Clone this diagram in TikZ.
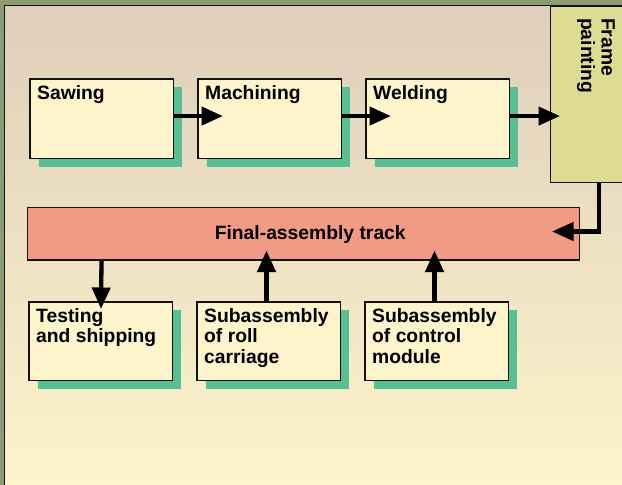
\documentclass[tikz,border=0pt]{standalone}
\usepackage{fontspec}
\setmainfont{Liberation Sans}
\usetikzlibrary{arrows.meta,shadows,calc}

\definecolor{rimolive}{HTML}{8E9B70}
\definecolor{edge}{HTML}{111111}
\definecolor{bgtop}{HTML}{DFCEBB}
\definecolor{bgbot}{HTML}{FCF4CB}
\definecolor{boxfill}{HTML}{FDF4CC}
\definecolor{shadowgreen}{HTML}{58BF93}
\definecolor{trackfill}{HTML}{F29B84}
\definecolor{framefill}{HTML}{DEDB93}

\begin{document}
\begin{tikzpicture}[x=1pt,y=-1pt,
  txt/.style={font=\bfseries\fontsize{19.3pt}{20.5pt}\selectfont, align=left, inner sep=0pt},
  stage/.style={draw=edge, line width=1.6pt, fill=boxfill,
    minimum width=143.5pt, anchor=north west,
    drop shadow={shadow xshift=9pt, shadow yshift=-8.5pt, fill=shadowgreen, opacity=1}},
  corner/.style={txt, anchor=north west, xshift=8pt, yshift=-7pt},
  arr/.style={line width=4.3pt, draw=black, -{Triangle[length=21.5pt,width=18pt]}},
]
% page frame and backdrop
\clip (0,0) rectangle (622,485);
\fill[rimolive] (0,0) rectangle (622,485);
\shade[top color=bgtop, bottom color=bgbot] (4.5,5.5) rectangle (622,485);
\draw[edge, line width=1.5pt] (4.5,485) -- (4.5,5.5) -- (622,5.5);

% final-assembly track
\node[draw=edge, line width=1.5pt, fill=trackfill, anchor=north west,
      minimum width=552pt, minimum height=52.5pt,
      label={[txt, xshift=7pt, yshift=-1pt]center:Final-assembly track}]
      (track) at (26.5,206.5) {};

% upper process stages
\node[stage, minimum height=79.5pt, label={[corner]north west:Sawing}]    (saw)  at (29,78) {};
\node[stage, minimum height=79.5pt, label={[corner]north west:Machining}] (mach) at (197,78) {};
\node[stage, minimum height=79.5pt, label={[corner]north west:Welding}]   (weld) at (365,78) {};

% lower stages
\node[stage, minimum height=78.5pt, label={[corner]north west:Testing\\and shipping}]          (test) at (28,301) {};
\node[stage, minimum height=78.5pt, label={[corner]north west:Subassembly\\of roll\\carriage}]   (roll) at (196,301) {};
\node[stage, minimum height=78.5pt, label={[corner]north west:Subassembly\\of control\\module}]  (ctrl) at (364,301) {};

% frame painting booth
\node[draw=edge, line width=1.3pt, fill=framefill, anchor=north west,
      minimum width=90pt, minimum height=176.5pt] (frame) at (550,5.5) {};
\node[txt, rotate=-90, anchor=north west] (frametxt) at (615,18) {Frame\\painting};

% material flow
\draw[arr] ($(saw.east)+(0,-2.5)$) -- ($(mach.west)+(26,-2.5)$);
\draw[arr] ($(mach.east)+(0,-2.5)$) -- ($(weld.west)+(26,-2.5)$);
\draw[arr] ($(weld.east)+(0,-2.5)$) -- ($(frame.west |- weld.east)+(10,-2.5)$);
\draw[arr] ($(frame.south west)+(49,0)$) |- ($(track.east)+(-28,-2)$);
\draw[arr] ($(track.south west)+(75,0)$) -- ($(test.north west)+(73,8)$);
\draw[arr] ($(roll.north west)+(70.5,0)$) -- ($(roll.north west |- track.south)+(70.5,-10)$);
\draw[arr] ($(ctrl.north west)+(70.5,0)$) -- ($(ctrl.north west |- track.south)+(70.5,-10)$);
\end{tikzpicture}
\end{document}
